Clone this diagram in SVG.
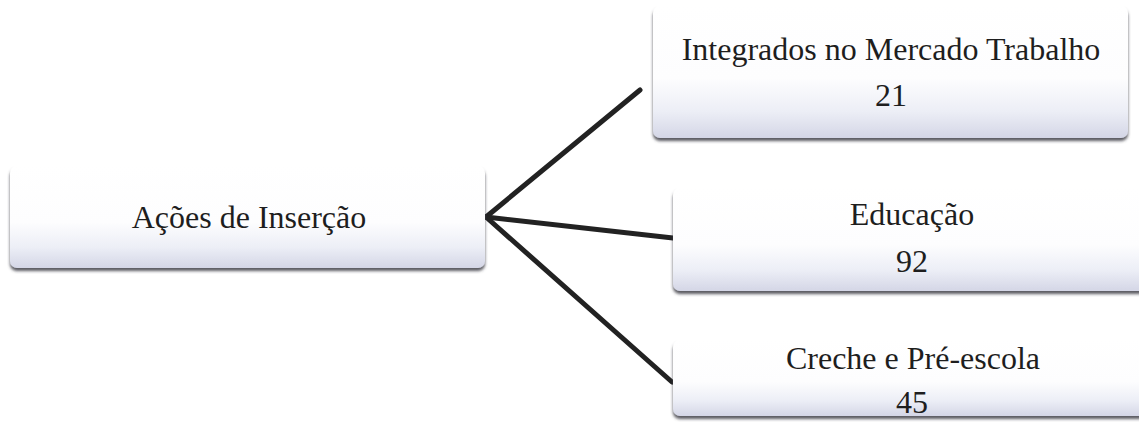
<svg xmlns="http://www.w3.org/2000/svg" width="1139" height="423" viewBox="0 0 1139 423">
  <defs>
    <linearGradient id="boxFill" x1="0" y1="0" x2="0" y2="1">
      <stop offset="0" stop-color="#ffffff"/>
      <stop offset="0.55" stop-color="#fdfdfe"/>
      <stop offset="0.8" stop-color="#eceef6"/>
      <stop offset="1" stop-color="#d4d6e6"/>
    </linearGradient>
    <linearGradient id="edgeFade" x1="0" y1="0" x2="0" y2="1">
      <stop offset="0" stop-color="#c8c8cc" stop-opacity="0.1"/>
      <stop offset="0.3" stop-color="#b8b8bc"/>
      <stop offset="1" stop-color="#8a8a90"/>
    </linearGradient>
    <filter id="shadow" x="-5%" y="-10%" width="110%" height="130%">
      <feDropShadow dx="0" dy="3" stdDeviation="1.4" flood-color="#3c3c44" flood-opacity="0.85"/>
    </filter>
    <style>
      .box { fill: url(#boxFill); filter: url(#shadow); }
      .edge { fill: none; stroke: url(#edgeFade); stroke-width: 2; }
      .label { font-family: "Liberation Serif", "Times New Roman", serif; font-size: 32px; fill: #1e1e1e; text-anchor: middle; }
      .link { stroke: #222; stroke-width: 5; stroke-linecap: round; fill: none; }
    </style>
  </defs>

  <rect width="1139" height="423" fill="#ffffff"/>

  <!-- connectors from the root to each branch -->
  <g id="connectors">
    <line class="link" x1="486" y1="217" x2="640" y2="90"/>
    <line class="link" x1="486" y1="217" x2="673" y2="238"/>
    <line class="link" x1="486" y1="217" x2="672" y2="382"/>
  </g>

  <g id="node-acoes">
    <rect class="box" x="10" y="166" width="475" height="102" rx="7"/>
    <path class="edge" d="M11 168 V262"/>
    <text class="label" x="249" y="228">Ações de Inserção</text>
  </g>

  <g id="node-mercado">
    <rect class="box" x="653" y="6" width="475" height="132" rx="7"/>
    <path class="edge" d="M654 10 V132"/>
    <text class="label" x="891" y="60">Integrados no Mercado Trabalho</text>
    <text class="label" x="891" y="106">21</text>
  </g>

  <g id="node-educacao">
    <rect class="box" x="673" y="188" width="480" height="103" rx="7"/>
    <path class="edge" d="M674 191 V285"/>
    <text class="label" x="912" y="225">Educação</text>
    <text class="label" x="912" y="272">92</text>
  </g>

  <g id="node-creche">
    <rect class="box" x="673" y="340" width="480" height="76" rx="7"/>
    <path class="edge" d="M674 343 V410"/>
    <text class="label" x="913" y="369">Creche e Pré-escola</text>
    <text class="label" x="912" y="413">45</text>
  </g>
</svg>
